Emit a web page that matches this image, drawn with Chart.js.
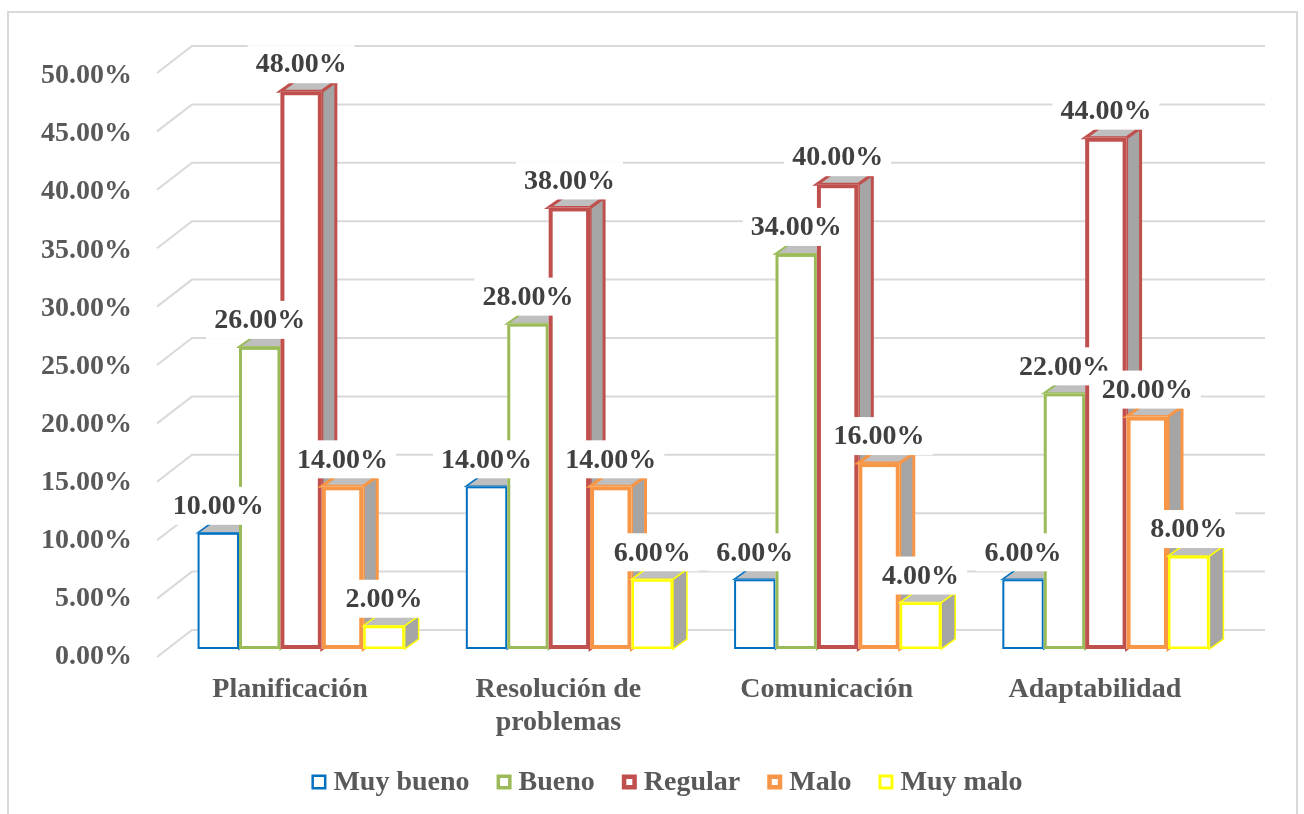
<!DOCTYPE html>
<html>
<head>
<meta charset="utf-8">
<script src="https://cdn.jsdelivr.net/npm/chart.js@4.4.0/dist/chart.umd.min.js"></script>
<style>
  html, body { margin: 0; padding: 0; background: #ffffff; }
  #wrap { position: relative; width: 1304px; height: 814px; }
  canvas { display: block; }
</style>
</head>
<body>
<div id="wrap"><canvas id="chart" width="1304" height="814"></canvas></div>
<script>
// Categories (x axis)
const CATEGORIES = ['Planificación', ['Resolución de', 'problemas'], 'Comunicación', 'Adaptabilidad'];

// Series names
const SERIES_NAMES = ['Muy bueno', 'Bueno', 'Regular', 'Malo', 'Muy malo'];

// Series values, in percent
const MUY_BUENO = [10, 14, 6, 6];
const BUENO     = [26, 28, 34, 22];
const REGULAR   = [48, 38, 40, 44];
const MALO      = [14, 14, 16, 20];
const MUY_MALO  = [2, 6, 4, 8];

// Value axis ticks
const Y_TICKS = [0, 5, 10, 15, 20, 25, 30, 35, 40, 45, 50];

// Styling
const SERIES_COLORS = ['#0070C0', '#9BBB59', '#C0504D', '#F79646', '#FFFF00'];
const SERIES_BORDER = [2, 3, 4, 4, 2.5];
const FONT_FAMILY = '"Liberation Serif", "Times New Roman", serif';
const DEPTH_X = 14;   // 3D column depth, horizontal
const DEPTH_Y = 10;   // 3D column depth, vertical
const GRID_COLOR = '#d9d9d9';

const SERIES_VALUES = [MUY_BUENO, BUENO, REGULAR, MALO, MUY_MALO];

const fmtPct = v => v.toFixed(2) + '%';

// Draws the back-wall gridlines, the 3D columns (front, side and top faces,
// series by series from left to right), the boxed value labels and the legend.
const column3d = {
  id: 'column3d',
  beforeDraw(chart) {
    const ctx = chart.ctx;
    ctx.save();
    ctx.fillStyle = '#ffffff';
    ctx.fillRect(0, 0, chart.width, chart.height);
    ctx.strokeStyle = GRID_COLOR;
    ctx.lineWidth = 2;
    ctx.strokeRect(8, 12, 1289, 820);
    ctx.restore();
  },
  beforeDatasetsDraw(chart) {
    const ctx = chart.ctx;
    const y = chart.scales.y;
    const area = chart.chartArea;
    ctx.save();
    ctx.strokeStyle = GRID_COLOR;
    ctx.lineWidth = 2;
    Y_TICKS.forEach(v => {
      const yf = y.getPixelForValue(v);
      const yb = yf - 19 - v * 0.06;
      ctx.beginPath();
      ctx.moveTo(area.left - 10, yb + 27);
      ctx.lineTo(area.left + 25, yb);
      ctx.lineTo(area.right + 25, yb);
      ctx.stroke();
    });
    ctx.restore();
  },
  afterDatasetsDraw(chart) {
    const ctx = chart.ctx;
    ctx.save();
    ctx.lineJoin = 'miter';
    // columns, category by category, series in order
    const metas = chart.data.datasets.map((ds, i) => chart.getDatasetMeta(i));
    for (let j = 0; j < CATEGORIES.length; j++) {
      metas.forEach((meta, i) => {
        const bar = meta.data[j];
        if (!bar) return;
        const { x, y, base, width } = bar.getProps(['x', 'y', 'base', 'width'], true);
        const L = x - width / 2, R = x + width / 2, T = y, B = base;
        const bw = SERIES_BORDER[i];
        const color = SERIES_COLORS[i];
        ctx.strokeStyle = color;
        ctx.lineWidth = Math.max(1.5, bw - 1);
        // side face
        ctx.beginPath();
        ctx.moveTo(R, T);
        ctx.lineTo(R + DEPTH_X, T - DEPTH_Y);
        ctx.lineTo(R + DEPTH_X, B - DEPTH_Y);
        ctx.lineTo(R, B);
        ctx.closePath();
        ctx.fillStyle = '#a5a5a5';
        ctx.fill();
        ctx.stroke();
        // top face
        ctx.beginPath();
        ctx.moveTo(L, T);
        ctx.lineTo(L + DEPTH_X, T - DEPTH_Y);
        ctx.lineTo(R + DEPTH_X, T - DEPTH_Y);
        ctx.lineTo(R, T);
        ctx.closePath();
        ctx.fillStyle = '#bfbfbf';
        ctx.fill();
        ctx.stroke();
        // front face
        ctx.fillStyle = '#ffffff';
        ctx.fillRect(L, T, R - L, B - T);
        ctx.lineWidth = bw;
        ctx.strokeRect(L + bw / 2, T + bw / 2, R - L - bw, B - T - bw);
      });
    }
    // value labels
    ctx.font = 'bold 28px ' + FONT_FAMILY;
    ctx.textAlign = 'center';
    ctx.textBaseline = 'middle';
    chart.data.datasets.forEach((ds, i) => {
      metas[i].data.forEach((bar, j) => {
        const { x, y } = bar.getProps(['x', 'y'], true);
        const text = fmtPct(ds.data[j]);
        const w = ctx.measureText(text).width;
        const cy = y - 27;
        ctx.fillStyle = '#ffffff';
        ctx.fillRect(x - w / 2 - 8, cy - 19, w + 16, 38);
        ctx.fillStyle = '#404040';
        ctx.fillText(text, x, cy + 1);
      });
    });
    ctx.restore();
  },
  afterDraw(chart) {
    const ctx = chart.ctx;
    ctx.save();
    ctx.font = 'bold 28px ' + FONT_FAMILY;
    ctx.textBaseline = 'middle';
    ctx.textAlign = 'left';
    const box = 15, gap = 7, itemGap = 27, cy = 782;
    const widths = chart.data.datasets.map(ds => ctx.measureText(ds.label).width);
    const total = widths.reduce((a, w) => a + box + gap + w, 0) + itemGap * (widths.length - 1);
    let x = 667 - total / 2;
    chart.data.datasets.forEach((ds, i) => {
      const bw = SERIES_BORDER[i] + 0.5;
      ctx.fillStyle = '#ffffff';
      ctx.fillRect(x, cy - box / 2, box, box);
      ctx.strokeStyle = SERIES_COLORS[i];
      ctx.lineWidth = bw;
      ctx.strokeRect(x + bw / 2, cy - box / 2 + bw / 2, box - bw, box - bw);
      ctx.fillStyle = '#595959';
      ctx.fillText(ds.label, x + box + gap, cy + 1);
      x += box + gap + widths[i] + itemGap;
    });
    ctx.restore();
  }
};

// Native bar drawing is left transparent; the plugin paints the 3D columns
// from the bar elements that Chart.js lays out.
const datasets = SERIES_NAMES.map((name, i) => ({
  label: name,
  data: SERIES_VALUES[i],
  backgroundColor: 'rgba(0,0,0,0)',
  borderColor: 'rgba(0,0,0,0)',
  borderWidth: 0,
  categoryPercentage: 0.772,
  barPercentage: 1.0
}));

new Chart(document.getElementById('chart'), {
  type: 'bar',
  data: { labels: CATEGORIES, datasets },
  options: {
    responsive: false,
    animation: false,
    devicePixelRatio: 1,
    layout: { padding: { top: 68, right: 64, bottom: 0, left: 0 } },
    plugins: {
      legend: { display: false },
      tooltip: { enabled: false }
    },
    scales: {
      x: {
        grid: { display: false, drawTicks: false },
        border: { display: false },
        ticks: {
          color: '#595959',
          font: { family: FONT_FAMILY, size: 28, weight: 'bold', lineHeight: 1.15 },
          padding: 25,
          labelOffset: -11,
          maxRotation: 0,
          autoSkip: false
        },
        afterFit(scale) { scale.height = 165; }
      },
      y: {
        min: 0,
        max: 50,
        grid: { display: false, drawTicks: false },
        border: { display: false },
        afterBuildTicks(scale) { scale.ticks = Y_TICKS.map(v => ({ value: v })); },
        ticks: {
          color: '#595959',
          font: { family: FONT_FAMILY, size: 28, weight: 'bold' },
          padding: 35,
          labelOffset: 8,
          callback: v => fmtPct(v)
        },
        afterFit(scale) { scale.width = 167; }
      }
    }
  },
  plugins: [column3d]
});
</script>
</body>
</html>
